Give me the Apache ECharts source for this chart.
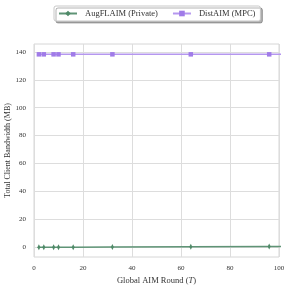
<!DOCTYPE html>
<html><head><meta charset="utf-8">
<script src="https://cdn.jsdelivr.net/npm/echarts@6/dist/echarts.min.js"></script>
<style>html,body{margin:0;padding:0;background:#fff}#c{width:291px;height:288px}</style>
</head><body><div id="c"></div>
<script>
var rounds = [2, 4, 8, 10, 16, 32, 64, 96, 128];
var augflaim = [0.05, 0.08, 0.1, 0.12, 0.15, 0.25, 0.4, 0.55, 0.7];
var distaim = [138.2, 138.2, 138.2, 138.2, 138.2, 138.2, 138.2, 138.2, 138.2];
var xTicks = [0, 20, 40, 60, 80, 100];
var yTicks = [0, 20, 40, 60, 80, 100, 120, 140];
var seriesNames = ['AugFLAIM (Private)', 'DistAIM (MPC)'];

var FONT = 'Liberation Serif';
var chart = echarts.init(document.getElementById('c'), null, {renderer: 'canvas'});
function pairs(xs, ys) { return xs.map(function (x, i) { return [x, ys[i]]; }); }
chart.setOption({
  animation: false,
  backgroundColor: '#fff',
  textStyle: {fontFamily: FONT},
  grid: {left: 34, right: 12, top: 44, bottom: 31, show: true, borderColor: '#d6d6d6', borderWidth: 1, containLabel: false, outerBoundsMode: 'none'},
  legend: {
    top: 6, left: 54,
    padding: [3, 5, 3, 4], itemGap: 14, itemWidth: 18, itemHeight: 7,
    backgroundColor: '#fff', borderColor: '#c8c8c8', borderWidth: 1, borderRadius: 2,
    shadowColor: 'rgba(0,0,0,0.3)', shadowBlur: 0, shadowOffsetX: 2, shadowOffsetY: 2,
    textStyle: {fontFamily: FONT, fontSize: 8.5, color: '#333', padding: [0, 0, 0, 3]},
    data: seriesNames
  },
  xAxis: {
    type: 'value', min: 0, max: 100, interval: 20,
    name: '{a|Global AIM Round (}{i|T}{a|)}', nameLocation: 'middle', nameGap: 19, nameMoveOverlap: false,
    nameTextStyle: {rich: {a: {fontFamily: FONT, fontSize: 8.5, color: '#333'}, i: {fontFamily: FONT, fontStyle: 'italic', fontSize: 8.5, color: '#333'}}},
    axisLine: {show: false}, axisTick: {show: false},
    axisLabel: {fontFamily: FONT, fontSize: 7, color: '#333', margin: 8},
    splitLine: {show: true, lineStyle: {color: '#dddddd', width: 1}}
  },
  yAxis: {
    type: 'value', min: -6.9, max: 145.6,
    name: 'Total Client Bandwidth (MB)', nameLocation: 'middle', nameGap: 22, nameRotate: 90, nameMoveOverlap: false,
    nameTextStyle: {fontFamily: FONT, fontSize: 8, color: '#333'},
    axisLine: {show: false},
    axisTick: {show: false, customValues: yTicks},
    axisLabel: {fontFamily: FONT, fontSize: 7, color: '#333', margin: 8, customValues: yTicks},
    splitLine: {show: true, lineStyle: {color: '#dddddd', width: 1}}
  },
  series: [
    {
      name: seriesNames[0], type: 'line', data: pairs(rounds, augflaim), clip: true,
      symbol: 'diamond', symbolSize: [3, 6], showAllSymbol: true,
      lineStyle: {color: '#5f9476', width: 1.5},
      itemStyle: {color: '#4f8a68'}
    },
    {
      name: seriesNames[1], type: 'line', data: pairs(rounds, distaim), clip: true,
      symbol: 'rect', symbolSize: 4.5, showAllSymbol: true,
      lineStyle: {color: '#b597ef', width: 1.5},
      itemStyle: {color: '#a07be8'}
    }
  ]
});
</script></body></html>
